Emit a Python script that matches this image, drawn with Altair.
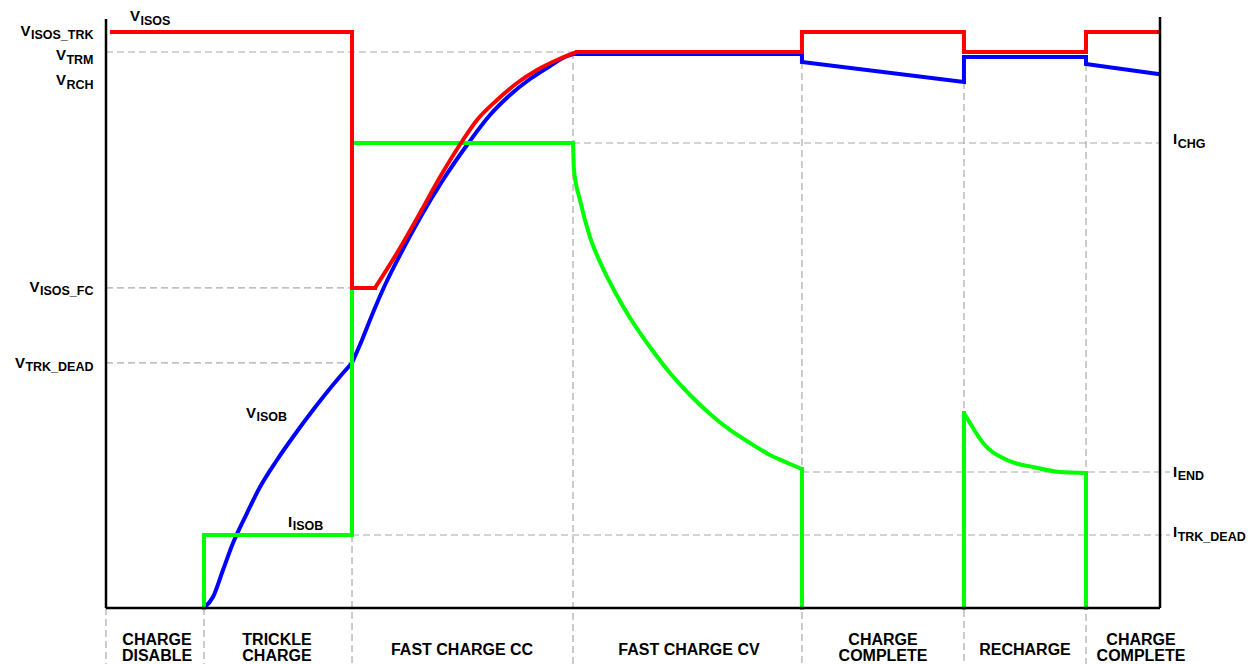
import altair as alt
import pandas as pd

# ---------------- data (time in % of window, level in % of full scale) ----------------
phase_bounds = [0.0, 9.30, 23.34, 44.31, 66.03, 81.40, 92.98]
phase_tops = [0.0, 0.0, 12.35, 94.08, 92.39, 89.00, 92.05]  # where each dashed divider starts
phase_label_lines = [["CHARGE", "DISABLE"], ["TRICKLE", "CHARGE"], ["FAST CHARGE CC"],
                     ["FAST CHARGE CV"], ["CHARGE", "COMPLETE"], ["RECHARGE"],
                     ["CHARGE", "COMPLETE"]]
phase_label_t = [4.84, 16.22, 33.78, 55.31, 73.72, 87.19, 98.20]

# V_ISOS (red)
visos_t = [0.57, 23.34, 23.34, 25.52, 27.61, 29.79, 31.69, 33.87, 35.20, 37.10, 39.00,
           40.89, 42.79, 44.69, 66.03, 66.03, 81.40, 81.40, 92.98, 92.98, 99.81]
visos_v = [97.46, 97.46, 54.15, 54.15, 60.07, 66.84, 72.93, 79.19, 82.57, 85.96, 88.83,
           91.03, 92.72, 94.08, 94.08, 97.46, 97.46, 94.08, 94.08, 97.46, 97.46]
visos_pieces = [(0, 3, "linear"), (3, 13, "monotone"), (13, 20, "linear")]

# V_ISOB (blue)
visob_t = [9.30, 10.15, 11.10, 12.05, 13.38, 14.61, 16.22, 17.74, 19.64, 21.92, 23.34,
           24.29, 25.24, 26.47, 27.89, 29.79, 31.97, 34.25, 36.43, 38.33, 40.23, 42.13,
           43.55, 44.31, 66.03, 66.03, 81.40, 81.40, 92.98, 92.98, 99.81]
visob_v = [0.0, 1.86, 6.43, 11.00, 16.07, 20.47, 25.04, 28.93, 33.50, 38.58, 41.46,
           45.35, 49.58, 54.65, 59.73, 65.99, 72.42, 78.34, 83.42, 86.80, 89.51, 91.71,
           93.23, 93.74, 93.74, 92.39, 89.00, 93.23, 93.23, 92.05, 90.36]
visob_pieces = [(0, 10, "monotone"), (10, 23, "monotone"), (23, 30, "linear")]

# I_ISOB (green)
iisob_t = [9.30, 9.30, 23.34, 23.34, 44.31, 44.40, 44.97, 45.92, 46.87, 48.29, 49.72,
           51.61, 53.51, 55.41, 57.31, 59.20, 61.10, 63.00, 64.90, 66.03, 66.03, 81.40,
           81.40, 81.97, 83.21, 85.48, 87.95, 90.51, 92.98, 92.98]
iisob_v = [0.0, 12.35, 12.35, 78.68, 78.68, 74.11, 69.04, 62.77, 58.54, 53.47, 49.07,
           44.16, 39.76, 36.04, 32.83, 30.12, 27.92, 25.89, 24.37, 23.52, 0.0, 0.0,
           32.99, 31.30, 27.92, 25.04, 23.86, 23.01, 22.84, 0.0]
iisob_pieces = [(0, 4, "linear"), (4, 19, "monotone"), (19, 20, "linear"),
                (21, 22, "linear"), (22, 28, "monotone"), (28, 29, "linear")]

# reference levels: dashed guide from t to t
ref_level = [94.08, 54.15, 41.46, 78.68, 23.01, 12.35]
ref_from = [0.0, 0.0, 0.0, 44.31, 66.03, 23.34]
ref_to = [44.31, 23.34, 23.34, 100.0, 100.95, 100.95]

# axis labels (left side, right-aligned) and right side labels
left_main = ["V", "V", "V", "V", "V"]
left_sub = ["ISOS_TRK", "TRM", "RCH", "ISOS_FC", "TRK_DEAD"]
left_base = [96.79, 92.72, 88.49, 53.47, 40.61]
right_main = ["I", "I", "I"]
right_sub = ["CHG", "END", "TRK_DEAD"]
right_base = [78.51, 22.17, 12.01]
curve_main = ["V", "V", "I"]
curve_sub = ["ISOS", "ISOB", "ISOB"]
curve_t = [2.28, 13.28, 17.27]
curve_base = [99.32, 32.15, 13.71]

# ---------------- layout helpers ----------------
X_RANGE = [98, 1152]
Y_RANGE = [600, 9]
PX_T = (X_RANGE[1] - X_RANGE[0]) / 100.0
PX_L = (Y_RANGE[0] - Y_RANGE[1]) / 100.0
MAIN_SIZE = 15
SUB_SIZE = 12.5
FONT = "Liberation Sans"
CW = {"I": .278, "V": .667, "S": .667, "O": .778, "_": .556, "T": .611, "R": .722,
      "K": .722, "M": .833, "C": .722, "H": .722, "F": .611, "D": .722, "E": .667,
      "A": .722, "N": .722, "G": .778, "B": .722}


def tw(s, size):
    return sum(CW[c] for c in s) * size


xs = alt.Scale(domain=[0, 100], range=X_RANGE, nice=False, zero=False)
ys = alt.Scale(domain=[0, 100], range=Y_RANGE, nice=False, zero=False)
SUB_DROP = 3.5 / PX_L

mains, subs = [], []
LEFT_EDGE = -1.19
for m, s, b in zip(left_main, left_sub, left_base):
    start = LEFT_EDGE - (tw(m, MAIN_SIZE) + tw(s, SUB_SIZE) + 0.5) / PX_T
    mains.append({"t": start, "L": b, "txt": m})
    subs.append({"t": start + (tw(m, MAIN_SIZE) + 0.5) / PX_T, "L": b - SUB_DROP, "txt": s})
for m, s, b in zip(right_main, right_sub, right_base):
    start = 101.23
    mains.append({"t": start, "L": b, "txt": m})
    subs.append({"t": start + (tw(m, MAIN_SIZE) + 0.5) / PX_T, "L": b - SUB_DROP, "txt": s})
for m, s, t, b in zip(curve_main, curve_sub, curve_t, curve_base):
    mains.append({"t": t, "L": b, "txt": m})
    subs.append({"t": t + (tw(m, MAIN_SIZE) + 0.5) / PX_T, "L": b - SUB_DROP, "txt": s})
mains = pd.DataFrame(mains)
subs = pd.DataFrame(subs)

# dashed guides
segs = []
for f, t, l in zip(ref_from, ref_to, ref_level):
    segs.append({"t1": f, "t2": t, "l1": l, "l2": l})
BOTTOM = -9.5
for b, top in zip(phase_bounds, phase_tops):
    segs.append({"t1": b, "t2": b, "l1": top, "l2": BOTTOM})
segs = pd.DataFrame(segs)

frame = pd.DataFrame([
    {"t1": 0, "t2": 0, "l1": 0, "l2": 99.66},
    {"t1": 100, "t2": 100, "l1": 0, "l2": 100},
    {"t1": 0, "t2": 100, "l1": 0, "l2": 0},
])

# phase labels
plab = []
for lines, t in zip(phase_label_lines, phase_label_t):
    if len(lines) == 2:
        plab.append({"t": t, "L": -6.26, "txt": lines[0]})
        plab.append({"t": t, "L": -8.97, "txt": lines[1]})
    else:
        plab.append({"t": t, "L": -7.95, "txt": lines[0]})
plab = pd.DataFrame(plab)


def pieces(ts, vs, spec, kind):
    rows = []
    for k, (a, b, interp) in enumerate(spec):
        if interp != kind:
            continue
        for i in range(a, b + 1):
            rows.append({"t": ts[i], "L": vs[i], "i": i, "seg": k})
    return pd.DataFrame(rows)


def series_layers(ts, vs, spec, color):
    out = []
    for kind in ("monotone", "linear"):
        df = pieces(ts, vs, spec, kind)
        if len(df) == 0:
            continue
        out.append(alt.Chart(df).mark_line(
            color=color, strokeWidth=4, interpolate=kind,
            strokeJoin="miter" if kind == "linear" else "round",
            strokeCap="square" if kind == "linear" else "round", clip=False).encode(
            x=alt.X("t:Q", scale=xs, axis=None),
            y=alt.Y("L:Q", scale=ys, axis=None),
            detail="seg:N",
            order="i:Q"))
    return out


guides = alt.Chart(segs).mark_rule(color="#aaaaaa", strokeWidth=1.2, strokeDash=[7, 4]).encode(
    x=alt.X("t1:Q", scale=xs, axis=None), x2="t2:Q",
    y=alt.Y("l1:Q", scale=ys, axis=None), y2="l2:Q")

axes = alt.Chart(frame).mark_rule(color="black", strokeWidth=2.5).encode(
    x=alt.X("t1:Q", scale=xs, axis=None), x2="t2:Q",
    y=alt.Y("l1:Q", scale=ys, axis=None), y2="l2:Q")

blue = series_layers(visob_t, visob_v, visob_pieces, "#0000ff")
green = series_layers(iisob_t, iisob_v, iisob_pieces, "#00ff00")
red = series_layers(visos_t, visos_v, visos_pieces, "#ff0000")

main_txt = alt.Chart(mains).mark_text(font=FONT, fontWeight="bold", fontSize=MAIN_SIZE,
                                      align="left", baseline="alphabetic", color="black").encode(
    x=alt.X("t:Q", scale=xs, axis=None), y=alt.Y("L:Q", scale=ys, axis=None), text="txt:N")
sub_txt = alt.Chart(subs).mark_text(font=FONT, fontWeight="bold", fontSize=SUB_SIZE,
                                    align="left", baseline="alphabetic", color="black").encode(
    x=alt.X("t:Q", scale=xs, axis=None), y=alt.Y("L:Q", scale=ys, axis=None), text="txt:N")
phase_txt = alt.Chart(plab).mark_text(font=FONT, fontWeight="bold", fontSize=16,
                                      align="center", baseline="alphabetic", color="black").encode(
    x=alt.X("t:Q", scale=xs, axis=None), y=alt.Y("L:Q", scale=ys, axis=None), text="txt:N")

chart = alt.layer(guides, *blue, *green, *red, axes, main_txt, sub_txt, phase_txt).properties(
    width=1242, height=656, padding=0,
    autosize=alt.AutoSizeParams(type="none"),
    background="white",
).configure_view(stroke=None)

chart.save("out.html", embed_options={"renderer": "svg", "actions": False})
